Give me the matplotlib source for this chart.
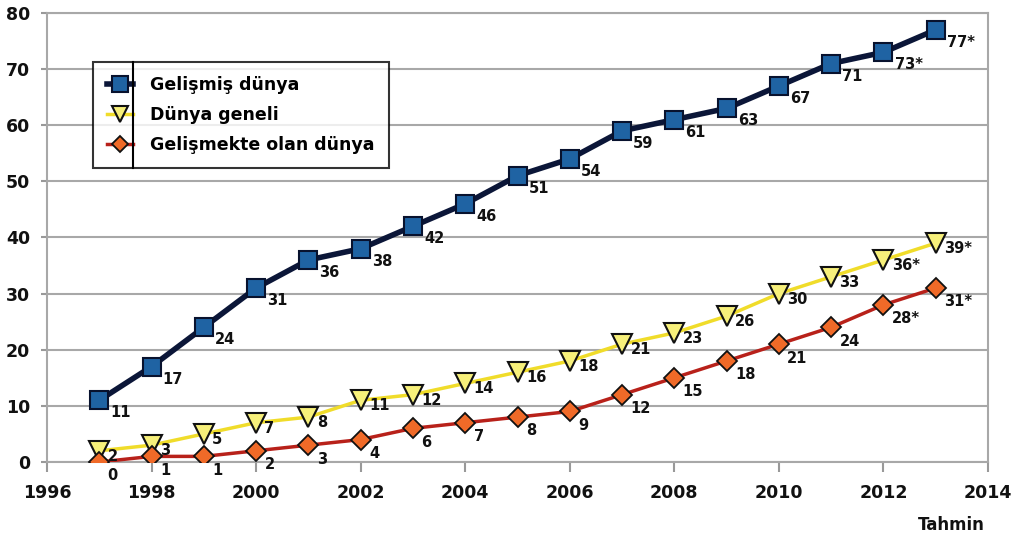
import matplotlib
matplotlib.use("Agg")
import matplotlib.pyplot as plt
from matplotlib.lines import Line2D

years = list(range(1997, 2014))
gelismis = [11, 17, 24, 31, 36, 38, 42, 46, 51, 54, 59, 61, 63, 67, 71, 73, 77]
dunya = [2, 3, 5, 7, 8, 11, 12, 14, 16, 18, 21, 23, 26, 30, 33, 36, 39]
gelismekte = [0, 1, 1, 2, 3, 4, 6, 7, 8, 9, 12, 15, 18, 21, 24, 28, 31]
tahmin_years = [2012, 2013]  # estimated values get a "*"

series_names = ["Gelişmiş dünya", "Dünya geneli", "Gelişmekte olan dünya"]
x_ticks = [1996, 1998, 2000, 2002, 2004, 2006, 2008, 2010, 2012, 2014]
y_ticks = [0, 10, 20, 30, 40, 50, 60, 70, 80]

plt.rcParams['font.family'] = ['DejaVu Sans']

fig = plt.figure(figsize=(10.16, 5.37), dpi=100)
ax = fig.add_axes([47 / 1016, 1 - 462 / 537, (988 - 47) / 1016, (462 - 13) / 537])

styles = [
    dict(color="#0b1638", lw=4, marker="s", ms=13, mfc="#1f63a3", mec="#08122e", mew=1.5),
    dict(color="#f0dc2a", lw=2.5, marker="v", ms=14, mfc="#f7f07a", mec="#111111", mew=1.5),
    dict(color="#b8211a", lw=2.5, marker="D", ms=10, mfc="#f06a28", mec="#111111", mew=1.3),
]
# value label offsets (points) for each series
offsets = [(8, -9), (6, -4), (6, -10)]

handles = []
for name, vals, st, off in zip(series_names, [gelismis, dunya, gelismekte], styles, offsets):
    h, = ax.plot(years, vals, label=name, zorder=3, **st)
    handles.append(h)
    for yr, v in zip(years, vals):
        txt = f"{v}*" if yr in tahmin_years else str(v)
        ax.annotate(txt, (yr, v), xytext=off, textcoords="offset points",
                    ha="left", va="center", fontsize=10.5, fontweight="bold",
                    color="#111111", zorder=4)

ax.set_xlim(1996, 2014)
ax.set_ylim(0, 80)
ax.set_xticks(x_ticks)
ax.set_yticks(y_ticks)
ax.tick_params(axis="x", direction="out", length=7, width=1.5, color="#999999",
               labelsize=12.5, labelcolor="#111111", pad=9)
ax.tick_params(axis="y", direction="out", length=4, width=1.5, color="#999999",
               labelsize=12.5, labelcolor="#111111", pad=8)
for lab in ax.get_xticklabels() + ax.get_yticklabels():
    lab.set_fontweight("bold")
ax.yaxis.grid(True, color="#a8a8a8", lw=1.5)
ax.set_axisbelow(True)
for sp in ax.spines.values():
    sp.set_color("#a8a8a8")
    sp.set_linewidth(1.5)

leg = ax.legend(handles=handles, loc="upper left",
                bbox_to_anchor=(93 / 1016, 1 - 62 / 537), bbox_transform=fig.transFigure,
                borderaxespad=0, fancybox=False, frameon=True, edgecolor="black",
                handlelength=1.5, handletextpad=1.0, labelspacing=0.7, borderpad=0.8,
                prop=dict(weight="heavy", size=12.5), markerscale=0.85)
leg.get_frame().set_linewidth(1.5)

fig.canvas.draw()
bb = leg.get_window_extent().transformed(fig.transFigure.inverted())
fig.add_artist(Line2D([133 / 1016, 133 / 1016], [bb.y0, bb.y1], color="black", lw=1.5,
                      transform=fig.transFigure, zorder=10))

fig.text(985 / 1016, 1 - 525 / 537, "Tahmin", ha="right", va="center",
         fontsize=12, fontweight="heavy", color="#111111")

fig.savefig("out.png", dpi=100)
